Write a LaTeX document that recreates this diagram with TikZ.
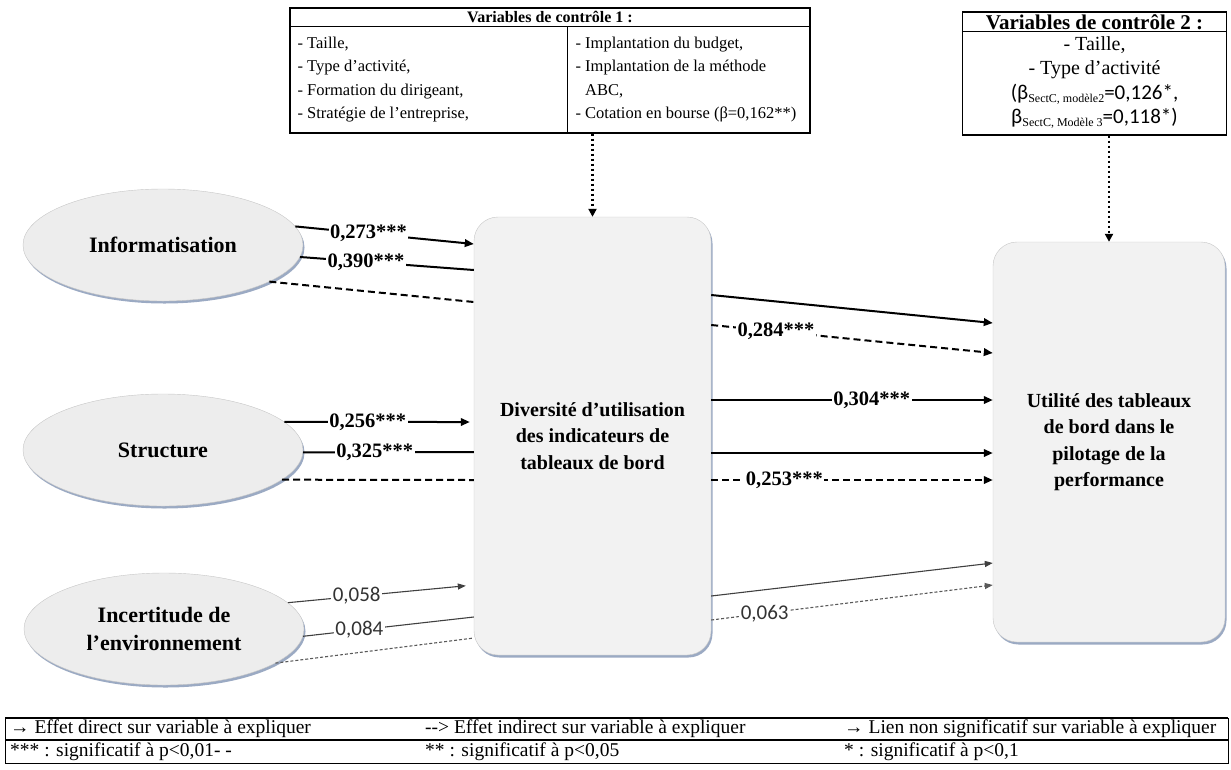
\documentclass[tikz,border=0pt]{standalone}
\usepackage{fontspec}
\setmainfont{Liberation Serif}
\newfontfamily\carl{Carlito}
\usetikzlibrary{positioning,shapes.geometric,arrows.meta,shadows}
\definecolor{shadowblue}{RGB}{150,165,192}
\newcommand{\subtxt}[1]{\raisebox{-3pt}{\fontsize{12}{12}\selectfont #1}}
\newcommand{\betafont}{\carl\fontsize{21}{25}\selectfont}
\tikzset{
    softshadow/.style={drop shadow={shadow xshift=1.5pt, shadow yshift=-2.5pt, fill=shadowblue, opacity=.95}},
    latent/.style={ellipse, draw=gray!45, fill=gray!14, minimum width=280pt, minimum height=112pt, inner sep=0pt, align=center, font=\fontsize{22}{28}\selectfont\bfseries, softshadow},
    block/.style={rectangle, rounded corners=24pt, draw=gray!45, fill=gray!10, inner sep=0pt, align=center, font=\fontsize{20}{26.5}\selectfont\bfseries, softshadow},
    ctrlbox/.style={draw, line width=1.2pt, inner sep=0pt},
    ctrltext/.style={inner sep=0pt, font=\fontsize{16.5}{23.5}\selectfont},
    strong/.style={line width=2pt},
    strongdash/.style={line width=2pt, dash pattern=on 7pt off 4pt},
    weak/.style={line width=1.1pt, draw=black!75},
    weakdash/.style={line width=1.1pt, draw=black!65, dash pattern=on 3pt off 2pt},
    bigtip/.style={-{Triangle[length=9pt,width=7.5pt]}},
    smalltip/.style={-{Triangle[length=8pt,width=6pt]}},
    ctrlarrow/.style={line width=2.5pt, dash pattern=on 2.5pt off 2.5pt, -{Triangle[length=8pt,width=8pt]}},
    coef/.style={fill=white, inner sep=1.5pt, font=\fontsize{20.5}{20.5}\selectfont\bfseries},
    weakcoef/.style={fill=white, inner sep=1.5pt, text=black!80, font=\carl\fontsize{21}{21}\selectfont},
    legtext/.style={anchor=west, inner sep=0pt, font=\fontsize{19.5}{22}\selectfont}
}

\begin{document}
\begin{tikzpicture}[x=1pt, y=-1pt]
    \useasboundingbox (0,0) rectangle (1231,769);

    % control variables
    \node[ctrlbox, minimum width=520pt, minimum height=125pt] (ctrl1) at (550,70.5) {};
    \draw[line width=1.2pt] ([yshift=-19pt]ctrl1.north west) -- ([yshift=-19pt]ctrl1.north east);
    \draw[line width=1.2pt] ([xshift=278pt,yshift=-19pt]ctrl1.north west) -- ([xshift=278pt]ctrl1.south west);
    \node[ctrltext, font=\fontsize{16}{20}\selectfont\bfseries] (ctrl1title) at ([yshift=-9.5pt]ctrl1.north) {Variables de contrôle 1 :};
    \node[ctrltext, anchor=north west, align=left] (ctrl1left) at ([xshift=8pt,yshift=-29pt]ctrl1.north west)
        {- Taille,\\- Type d’activité,\\- Formation du dirigeant,\\- Stratégie de l’entreprise,};
    \node[ctrltext, anchor=north west, align=left] (ctrl1right) at ([xshift=286pt,yshift=-29pt]ctrl1.north west)
        {- Implantation du budget,\\- Implantation de la méthode\\\phantom{- }ABC,\\- Cotation en bourse (β=0,162**)};

    \node[ctrlbox, minimum width=264pt, minimum height=123pt] (ctrl2) at (1094.5,73.5) {};
    \draw[line width=1.2pt] ([yshift=-20pt]ctrl2.north west) -- ([yshift=-20pt]ctrl2.north east);
    \node[ctrltext, font=\fontsize{21}{21}\selectfont\bfseries] (ctrl2title) at ([yshift=-10.5pt]ctrl2.north) {Variables de contrôle 2 :};
    \node[ctrltext, anchor=north, align=center, font=\fontsize{20}{24.5}\selectfont] (ctrl2body) at ([yshift=-25pt]ctrl2.north)
        {- Taille,\\- Type d’activité\\{\betafont(β}\subtxt{SectC, modèle2}{\betafont=0,126*,}\\{\betafont β}\subtxt{SectC, Modèle 3}{\betafont=0,118*)}};

    % constructs
    \node[latent] (info) at (163,245) {Informatisation};
    \node[latent] (struct) at (163,450) {Structure};
    \node[latent] (incert) at (164,629) {Incertitude de\\l’environnement};
    \node[block, minimum width=237pt, minimum height=438pt] (divers) at (592.5,436)
        {Diversité d’utilisation\\des indicateurs de\\tableaux de bord};
    \node[block, minimum width=232pt, minimum height=400pt] (utilite) at (1109,442)
        {Utilité des tableaux\\de bord dans le\\pilotage de la\\performance};

    \draw[ctrlarrow] (ctrl1.south -| divers.north) -- (divers.north);
    \draw[ctrlarrow] (ctrl2.south -| utilite.north) -- (utilite.north);

    % Informatisation
    \draw[strong, bigtip] (info.8) -- node[pos=.41, coef] {0,273***} ([yshift=192pt]divers.west);
    \draw[strong] (info.-5) -- node[pos=.38, coef] {0,390***} ([yshift=166pt]divers.west);
    \draw[strongdash] (info.-19) -- ([yshift=134pt]divers.west);
    \draw[strong, bigtip] ([yshift=141pt]divers.east) -- ([yshift=119pt]utilite.west);
    \draw[strongdash, bigtip] ([yshift=111pt]divers.east) -- node[pos=.23, coef] {0,284***} ([yshift=89pt]utilite.west);
    \draw[strong, bigtip] ([yshift=36pt]divers.east) -- node[pos=.57, coef] {0,304***} ([yshift=42pt]utilite.west);

    % Structure
    \draw[strong, bigtip, shorten >=4pt] (struct.13) -- node[pos=.44, coef] {0,256***} ([yshift=14pt]divers.west);
    \draw[strong] (struct.-1) -- node[pos=.42, coef] {0,325***} ([yshift=-16pt]divers.west);
    \draw[strongdash] (struct.-14) -- ([yshift=-44pt]divers.west);
    \draw[strong, bigtip] ([yshift=-17pt]divers.east) -- ([yshift=-11pt]utilite.west);
    \draw[strongdash, bigtip] ([yshift=-44pt]divers.east) -- node[pos=.26, coef] {0,253***} ([yshift=-38pt]utilite.west);

    % Incertitude de l'environnement
    \draw[weak, smalltip, shorten >=8pt] (incert.12) -- node[pos=.37, weakcoef] {0,058} ([yshift=-149pt]divers.west);
    \draw[weak] (incert.-3) -- node[pos=.33, weakcoef] {0,084} ([yshift=-181pt]divers.west);
    \draw[weakdash] (incert.-17) -- ([yshift=-202pt]divers.west);
    \draw[weak, smalltip] ([yshift=-160pt]divers.east) -- ([yshift=-121pt]utilite.west);
    \draw[weakdash, smalltip] ([yshift=-184pt]divers.east) -- node[pos=.19, weakcoef] {0,063} ([yshift=-143pt]utilite.west);

    % legend
    \draw[line width=.8pt] (5,718) rectangle (1228,763);
    \draw[line width=1.6pt] (5,718) -- (1228,718);
    \draw[line width=1.4pt] (5,740) -- (1228,740);
    \node[legtext] (leg1) at (10,729) {{\bfseries →} Effet direct sur variable à expliquer};
    \node[legtext] (leg2) at (425,729) {-{}-{}> Effet indirect sur variable à expliquer};
    \node[legtext] (leg3) at (844,729) {→ Lien non significatif sur variable à expliquer};
    \node[legtext] (leg4) at (10,751.5) {*** : significatif à p<0,01- -};
    \node[legtext] (leg5) at (425,751.5) {** : significatif à p<0,05};
    \node[legtext] (leg6) at (844,751.5) {* : significatif à p<0,1};
\end{tikzpicture}
\end{document}
